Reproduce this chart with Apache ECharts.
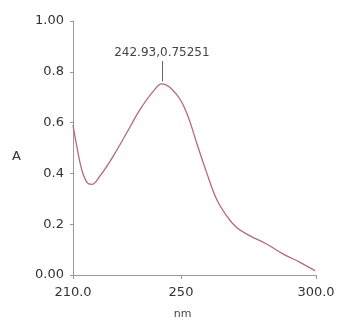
<!DOCTYPE html>
<html>
<head>
<meta charset="utf-8">
<script src="https://cdn.jsdelivr.net/npm/echarts@6/dist/echarts.min.js"></script>
<style>
  html, body {margin: 0; padding: 0; background: #fff;}
  #chart {width: 338px; height: 325px;}
</style>
</head>
<body>
<div id="chart"></div>
<script>
// wavelength (nm) and absorbance
const wavelengths = [210, 211.4, 213.2, 215.1, 216.9, 220, 224.9, 229.9, 234.8, 239.7, 242.93,
  248.4, 252.1, 255.8, 259.5, 263.2, 266.9, 270.6, 275.6, 281.7, 287.9, 294.1, 299.6];
const absorbance = [0.59, 0.507, 0.416, 0.366, 0.357, 0.39, 0.468, 0.56, 0.651, 0.723, 0.7525,
  0.71, 0.638, 0.52, 0.403, 0.298, 0.233, 0.187, 0.154, 0.122, 0.082, 0.05, 0.017];
const xTicks = [210, 250, 300];
const xTickLabels = ['210.0', '250', '300.0'];
const yTicks = [0, 0.2, 0.4, 0.6, 0.8, 1.0];
const yTickLabels = ['0.00', '0.2', '0.4', '0.6', '0.8', '1.00'];
const peak = {x: 242.93, y: 0.7525, text: '242.93,0.75251'};

const chart = echarts.init(document.getElementById('chart'));
const font = 'DejaVu Sans, Verdana, sans-serif';

chart.setOption({
  animation: false,
  grid: {left: 73, right: 22, top: 21, bottom: 49},
  xAxis: {
    type: 'value',
    min: 210,
    max: 300,
    name: 'nm',
    nameLocation: 'middle',
    nameGap: 34,
    nameTextStyle: {color: '#444', fontSize: 11, fontFamily: font, padding: [0, 24, 0, 0]},
    axisLine: {lineStyle: {color: '#999'}},
    axisTick: {show: true, customValues: xTicks, length: 4, lineStyle: {color: '#999'}},
    axisLabel: {
      customValues: xTicks,
      color: '#333', fontSize: 13, fontFamily: font, margin: 11,
      formatter: v => xTickLabels[xTicks.indexOf(v)]
    },
    splitLine: {show: false}
  },
  yAxis: {
    type: 'value',
    min: 0,
    max: 1,
    interval: 0.2,
    name: 'A',
    nameLocation: 'middle',
    nameRotate: 0,
    nameGap: 52,
    nameTextStyle: {color: '#333', fontSize: 13, fontFamily: font, verticalAlign: 'top', padding: [2, 0, 0, 0]},
    axisLine: {show: true, lineStyle: {color: '#999'}},
    axisTick: {show: true, length: 3, lineStyle: {color: '#999'}},
    axisLabel: {
      color: '#333', fontSize: 13, fontFamily: font, margin: 9,
      formatter: v => {
        const i = yTicks.findIndex(t => Math.abs(t - v) < 1e-6);
        return i >= 0 ? yTickLabels[i] : '';
      }
    },
    splitLine: {show: false}
  },
  series: [{
    type: 'line',
    data: wavelengths.map((w, i) => [w, absorbance[i]]),
    smooth: 0.4,
    showSymbol: false,
    lineStyle: {color: '#b56a78', width: 1.3},
    markLine: {
      silent: true,
      symbol: 'none',
      lineStyle: {color: '#666', width: 1, type: 'solid'},
      label: {
        show: true,
        position: 'end',
        formatter: peak.text,
        color: '#444',
        fontSize: 12,
        fontFamily: font,
        distance: 2
      },
      data: [[{coord: [peak.x, peak.y + 0.01]}, {coord: [peak.x, peak.y + 0.09]}]]
    }
  }]
});
</script>
</body>
</html>
